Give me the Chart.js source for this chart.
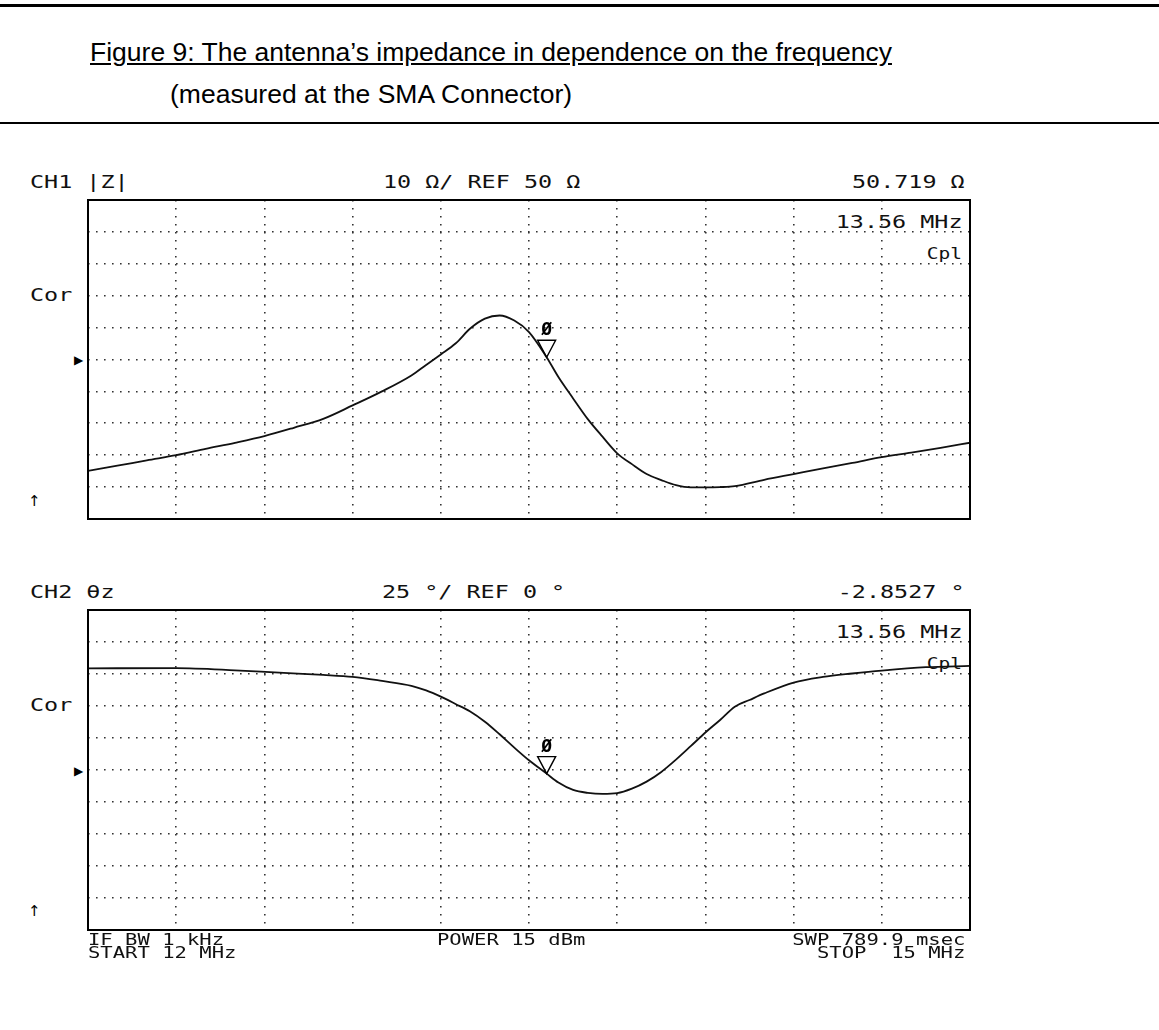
<!DOCTYPE html>
<html>
<head>
<meta charset="utf-8">
<script src="https://cdn.jsdelivr.net/npm/chart.js@4.4.1/dist/chart.umd.min.js"></script>
<style>
  html, body { margin: 0; padding: 0; background: #fff; }
  #page { position: relative; width: 1159px; height: 1030px; overflow: hidden; background: #fff; }
  .rule { position: absolute; left: 0; width: 1159px; background: #000; }
  .cap { position: absolute; font-family: "Liberation Sans", Arial, sans-serif; font-size: 26.5px; line-height: 26px; color: #000; white-space: pre; }
  .t { position: absolute; font-family: "DejaVu Sans Mono", monospace; font-size: 18px; line-height: 18px; color: #111;
       white-space: pre; transform: scaleX(1.3); transform-origin: left top; }
  .t.r { transform-origin: right top; }
  .s { font-size: 15px; line-height: 15px; }
  .f { position: absolute; font-family: "DejaVu Sans Mono", monospace; font-size: 15px; line-height: 15px; color: #111;
       white-space: pre; transform: scaleX(1.37); transform-origin: left top; }
  .f.r { transform-origin: right top; }
  .sym { position: absolute; font-family: "DejaVu Sans", sans-serif; color: #000; line-height: 12px; }
  canvas { position: absolute; }
</style>
</head>
<body>
<div id="page">
  <div class="rule" style="top:4px;height:3px"></div>
  <div class="cap" style="left:90px;top:39px;text-decoration:underline">Figure 9: The antenna’s impedance in dependence on the frequency</div>
  <div class="cap" style="left:170px;top:81px">(measured at the SMA Connector)</div>
  <div class="rule" style="top:122px;height:2px"></div>

  <!-- CH1 -->
  <div class="t" style="left:30px;top:173px">CH1 |Z|</div>
  <div class="t" style="left:383px;top:173px">10 Ω/ REF 50 Ω</div>
  <div class="t r" style="right:194px;top:173px">50.719 Ω</div>
  <div class="t r" style="right:196px;top:213px">13.56 MHz</div>
  <div class="t r s" style="right:197px;top:247px">Cpl</div>
  <div class="t" style="left:30px;top:286px">Cor</div>
  <div class="sym" style="left:74px;top:354px;font-size:12px">▶</div>
  <div class="sym" style="left:28px;top:495px;font-size:15px">↑</div>
  <canvas id="ch1" width="902" height="339" style="left:78px;top:190px"></canvas>

  <!-- CH2 -->
  <div class="t" style="left:30px;top:583px">CH2 θz</div>
  <div class="t" style="left:382px;top:583px">25 °/ REF 0 °</div>
  <div class="t r" style="right:194px;top:583px">-2.8527 °</div>
  <div class="t r" style="right:196px;top:623px">13.56 MHz</div>
  <div class="t r s" style="right:197px;top:657px">Cpl</div>
  <div class="t" style="left:30px;top:696px">Cor</div>
  <div class="sym" style="left:74px;top:765px;font-size:12px">▶</div>
  <div class="sym" style="left:28px;top:905px;font-size:15px">↑</div>
  <canvas id="ch2" width="902" height="340" style="left:78px;top:600px"></canvas>

  <!-- footer -->
  <div class="f" style="left:88px;top:933px">IF BW 1 kHz</div>
  <div class="f" style="left:88px;top:946px">START 12 MHz</div>
  <div class="f" style="left:437px;top:933px">POWER 15 dBm</div>
  <div class="f r" style="right:194px;top:933px">SWP 789.9 msec</div>
  <div class="f r" style="right:194px;top:946px">STOP  15 MHz</div>
</div>

<script>
// sweep 12 - 15 MHz, 10 divisions
const xGridTicks = [12, 12.3, 12.6, 12.9, 13.2, 13.5, 13.8, 14.1, 14.4, 14.7, 15];

// CH1 |Z| in ohm
const freqZ = [12.0, 12.1, 12.2, 12.3, 12.4, 12.5, 12.6, 12.7, 12.8, 12.9, 13.0, 13.1, 13.15, 13.2, 13.25,
  13.3, 13.35, 13.4, 13.45, 13.5, 13.56, 13.6, 13.65, 13.7, 13.75, 13.8, 13.85, 13.9, 13.95, 14.0,
  14.05, 14.1, 14.15, 14.2, 14.3, 14.4, 14.5, 14.6, 14.7, 14.8, 14.9, 15.0];
const impedance = [15.1, 16.7, 18.4, 20.0, 22.0, 23.9, 26.0, 28.6, 31.4, 35.6, 40.0, 45.0, 48.3, 51.6, 55.0,
  59.7, 62.8, 63.8, 62.2, 58.6, 50.7, 44.5, 37.8, 31.3, 25.8, 20.6, 17.2, 14.1, 12.2, 10.6,
  9.9, 9.9, 10.0, 10.3, 12.3, 14.1, 15.9, 17.6, 19.4, 20.8, 22.3, 23.9];

// CH2 phase in degrees
const freqPh = [12.0, 12.3, 12.5, 12.65, 12.8, 12.9, 13.0, 13.1, 13.15, 13.2, 13.25, 13.3, 13.35, 13.4, 13.45,
  13.5, 13.56, 13.6, 13.65, 13.7, 13.75, 13.8, 13.85, 13.9, 13.95, 14.0, 14.05, 14.1, 14.15, 14.2,
  14.25, 14.3, 14.4, 14.5, 14.6, 14.7, 14.85, 15.0];
const phase = [79.4, 79.6, 77.9, 76.0, 74.3, 72.8, 69.6, 65.8, 62.2, 57.3, 51.6, 45.7, 37.7, 27.9, 17.5,
  7.6, -2.85, -9.8, -15.6, -17.9, -18.7, -18.1, -14.6, -9.1, -1.5, 8.1, 18.6, 29.3, 39.1, 49.5,
  54.7, 59.8, 68.3, 72.7, 75.4, 77.7, 80.3, 81.3];

const markerFreq = 13.56;
const markerZ = 50.719;
const markerPhase = -2.8527;

// frame round the plot area + marker triangle with its number
const frameAndMarker = {
    id: 'frameAndMarker',
    afterDatasetsDraw(chart, args, opts) {
        const { ctx, chartArea: a, scales } = chart;
        ctx.save();
        ctx.strokeStyle = '#000';
        ctx.lineWidth = 2;
        ctx.strokeRect(a.left, a.top, a.right - a.left, a.bottom - a.top);

        const px = scales.x.getPixelForValue(markerFreq);
        const py = scales.y.getPixelForValue(opts.value);
        ctx.lineWidth = 1.4;
        ctx.beginPath();
        ctx.moveTo(px - 9, py - 17);
        ctx.lineTo(px + 9, py - 17);
        ctx.lineTo(px, py);
        ctx.closePath();
        ctx.stroke();
        ctx.fillStyle = '#000';
        ctx.font = 'bold 18px "DejaVu Sans Mono"';
        ctx.textAlign = 'center';
        ctx.textBaseline = 'alphabetic';
        ctx.fillText('Ø', px, py - 22);
        ctx.restore();
    }
};

function makeChart(id, xs, ys, yMin, yMax, yStep, markerVal) {
    const ctx = document.getElementById(id).getContext('2d');
    return new Chart(ctx, {
        type: 'line',
        data: {
            datasets: [{
                data: xs.map((f, i) => ({ x: f, y: ys[i] })),
                borderColor: '#111',
                borderWidth: 1.8,
                pointRadius: 0,
                cubicInterpolationMode: 'monotone',
                fill: false
            }]
        },
        options: {
            responsive: false,
            animation: false,
            devicePixelRatio: 1,
            layout: { padding: 10 },
            plugins: {
                legend: { display: false },
                tooltip: { enabled: false },
                frameAndMarker: { value: markerVal }
            },
            scales: {
                x: {
                    type: 'linear',
                    min: 12,
                    max: 15,
                    afterBuildTicks: (axis) => { axis.ticks = xGridTicks.map(v => ({ value: v })); },
                    ticks: { display: false },
                    grid: { color: '#333', lineWidth: 1.6, drawTicks: false },
                    border: { display: false, dash: [1.6, 6.4] }
                },
                y: {
                    min: yMin,
                    max: yMax,
                    ticks: { display: false, stepSize: yStep },
                    grid: { color: '#333', lineWidth: 1.6, drawTicks: false },
                    border: { display: false, dash: [1.6, 6.4] }
                }
            }
        },
        plugins: [frameAndMarker]
    });
}

makeChart('ch1', freqZ, impedance, 0, 100, 10, markerZ);
makeChart('ch2', freqPh, phase, -125, 125, 25, markerPhase);
</script>
</body>
</html>
